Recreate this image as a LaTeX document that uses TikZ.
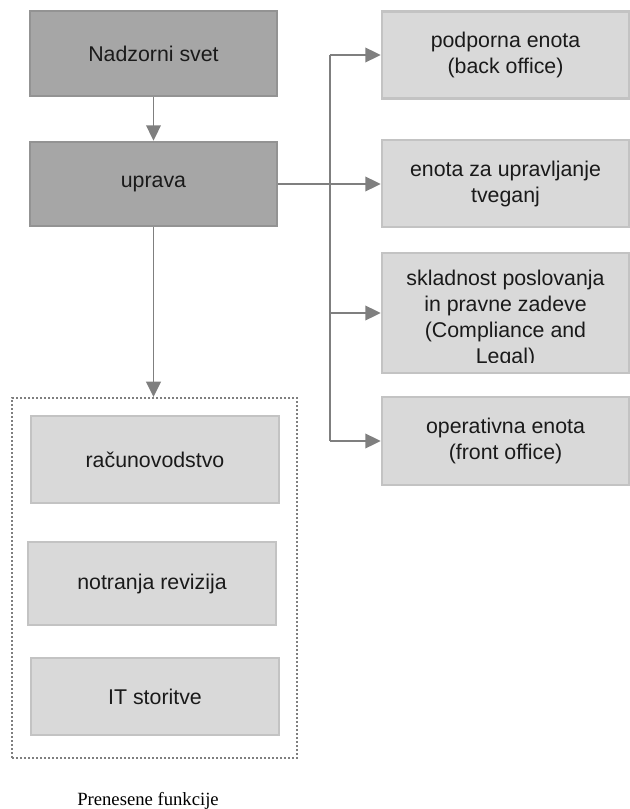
\documentclass[tikz,border=0pt]{standalone}
\usepackage{fontspec}
\setmainfont{Liberation Sans}
\newfontfamily\capfont{Liberation Serif}
\usetikzlibrary{arrows.meta}
\definecolor{darkfill}{HTML}{A6A6A6}
\definecolor{darkedge}{HTML}{939393}
\definecolor{lightfill}{HTML}{D9D9D9}
\definecolor{lightedge}{HTML}{C3C3C3}
\definecolor{linecol}{HTML}{7F7F7F}
\definecolor{txtcol}{HTML}{1A1A1A}
\tikzset{
  boxbase/.style={rectangle, line width=2pt, text=txtcol, align=center,
    font=\fontsize{16}{19.5}\selectfont, inner sep=0pt},
  darkbox/.style={boxbase, fill=darkfill, draw=darkedge},
  lightbox/.style={boxbase, fill=lightfill, draw=lightedge},
  ln/.style={draw=linecol, line width=1.2pt},
  arr/.style={ln, -{Triangle[length=11.5pt,width=11pt]}},
}
\begin{document}
\begin{tikzpicture}[x=0.75pt,y=-0.75pt]
\useasboundingbox (0,0) rectangle (629,809);
% left column
\node[darkbox, minimum width=247*0.75pt, minimum height=85*0.75pt] (nadz) at (153.5,53.5) {Nadzorni svet};
\node[darkbox, minimum width=247*0.75pt, minimum height=84*0.75pt] (uprava) at (153.5,184) {uprava};
% right column
\node[lightbox, minimum width=247*0.75pt, minimum height=87*0.75pt] (podp) at (505.5,55) {podporna enota\\(back office)};
\node[lightbox, minimum width=247*0.75pt, minimum height=87*0.75pt] (tveg) at (505.5,183.5) {enota za upravljanje\\tveganj};
\node[lightbox, minimum width=247*0.75pt, minimum height=120*0.75pt] (sklad) at (505.5,313) {};
\begin{scope}
  \clip (382,253) rectangle (629,362);
  \node[boxbase, anchor=north] (skladtxt) at (505.5,268.5) {skladnost poslovanja\\in pravne zadeve\\(Compliance and\\Legal)};
\end{scope}
\node[lightbox, minimum width=247*0.75pt, minimum height=88*0.75pt] (oper) at (505.5,441) {operativna enota\\(front office)};
% transferred functions
\node[draw=linecol, line width=1.5pt, dash pattern=on 1.5pt off 1.5pt, minimum width=285*0.75pt, minimum height=360*0.75pt, inner sep=0pt] (grp) at (154.5,578) {};
\node[lightbox, minimum width=248*0.75pt, minimum height=87*0.75pt] (racun) at (155,459.5) {računovodstvo};
\node[lightbox, minimum width=248*0.75pt, minimum height=83*0.75pt] (notr) at (152,583.5) {notranja revizija};
\node[lightbox, minimum width=248*0.75pt, minimum height=77*0.75pt] (it) at (155,696.5) {IT storitve};
\node[font=\capfont\fontsize{14}{16}\selectfont, text=black, anchor=base] (cap) at (148,805) {Prenesene funkcije};
% connectors
\draw[arr] (nadz.south) -- (uprava.north);
\draw[arr] (uprava.south) -- (grp.north -| uprava.south);
\coordinate (trunk) at (330,0);
\draw[arr] (uprava.east) -- (uprava.east -| tveg.west);
\draw[ln] (podp.west -| trunk) -- (oper.west -| trunk);
\draw[arr] (podp.west -| trunk) -- (podp.west);
\draw[arr] (sklad.west -| trunk) -- (sklad.west);
\draw[arr] (oper.west -| trunk) -- (oper.west);
\end{tikzpicture}
\end{document}
